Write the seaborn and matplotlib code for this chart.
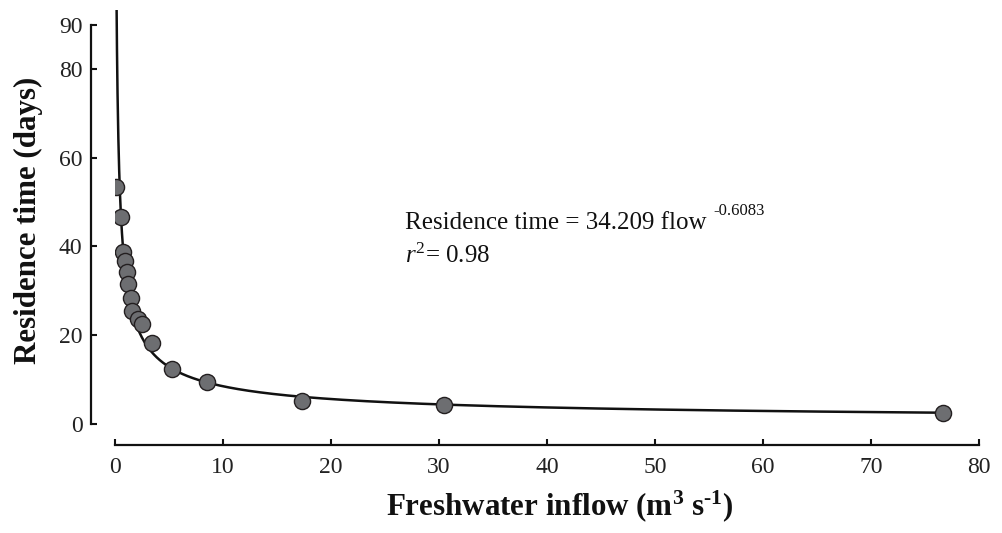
import numpy as np
import pandas as pd
import matplotlib
matplotlib.use("Agg")
import matplotlib.pyplot as plt
import seaborn as sns

flow = [0.11, 0.57, 0.81, 0.97, 1.13, 1.28, 1.50, 1.65, 2.15, 2.52, 3.50, 5.35, 8.58, 17.35, 30.48, 76.67]
residence = [53.45, 46.7, 38.8, 36.7, 34.3, 31.6, 28.3, 25.5, 23.5, 22.4, 18.2, 12.2, 9.3, 5.15, 4.11, 2.44]

# Fitted power model (from the chart's annotation)
coef_a = 34.209
coef_b = -0.6083
r_squared = 0.98

x_ticks = [0, 10, 20, 30, 40, 50, 60, 70, 80]
y_ticks = [0, 20, 40, 60, 80, 90]

sns.set_theme(style="ticks")
plt.rcParams['font.family'] = ['Liberation Serif', 'DejaVu Serif']
plt.rcParams['mathtext.fontset'] = 'custom'
plt.rcParams['mathtext.rm'] = 'Liberation Serif'
plt.rcParams['mathtext.it'] = 'Liberation Serif:italic'
plt.rcParams['mathtext.bf'] = 'Liberation Serif:bold'

fig = plt.figure(figsize=(10.02, 5.33), dpi=100)
ax = fig.add_axes([0.1143, 0.2054, 0.8630, 0.7754])

df = pd.DataFrame({"flow": flow, "residence": residence})
xs = np.linspace(0.15, max(flow), 3000)
fit = pd.DataFrame({"flow": xs, "residence": coef_a * xs ** coef_b})

sns.lineplot(data=fit, x="flow", y="residence", ax=ax, color="#111111", linewidth=1.8, zorder=2)
sns.scatterplot(data=df, x="flow", y="residence", ax=ax, s=135, color="#6d6e71",
                edgecolor="#231f20", linewidth=1.0, zorder=3)

ax.set_xlim(0, 80)
ax.set_ylim(0, 93.3)
ax.set_xticks(x_ticks)
ax.set_yticks(y_ticks)
ax.set_xticklabels([str(t) for t in x_ticks])
ax.set_yticklabels([str(t) for t in y_ticks])

for s in ["top", "right"]:
    ax.spines[s].set_visible(False)
ax.spines["left"].set_position(("outward", 17.1))
ax.spines["bottom"].set_position(("outward", 15.8))
ax.spines["left"].set_bounds(0, 90)
ax.spines["bottom"].set_bounds(0, 80)
for s in ["left", "bottom"]:
    ax.spines[s].set_linewidth(1.6)
    ax.spines[s].set_color("#111111")

ax.tick_params(axis="both", direction="in", length=4.5, width=1.5, color="#111111",
               labelsize=17, labelcolor="#222222")
ax.tick_params(axis="y", pad=6)
ax.tick_params(axis="x", pad=8)

ax.set_xlabel("Freshwater inflow (m$^{\\mathbf{3}}$ s$^{\\mathbf{\u20101}}$)", fontsize=22.3,
              fontweight="bold", color="#111111")
ax.set_ylabel("Residence time (days)", fontsize=22.3, fontweight="bold", color="#111111")
ax.xaxis.set_label_coords(0.515, -0.156)
ax.yaxis.label.set_va("center")
ax.yaxis.set_label_coords(-0.099, 0.492)

ax.text(26.87, 43.9, "Residence time = %.3f flow" % coef_a,
        fontsize=18, color="#111111", va="baseline", ha="left")
ax.text(55.4, 47.0, "%s" % coef_b, fontsize=12, color="#111111",
        va="baseline", ha="left")
ax.text(26.87, 36.2, r"$\mathit{r}^{\mathregular{2}}$= %.2f" % r_squared,
        fontsize=18, color="#111111", va="baseline", ha="left")

fig.savefig("out.png", dpi=100)
